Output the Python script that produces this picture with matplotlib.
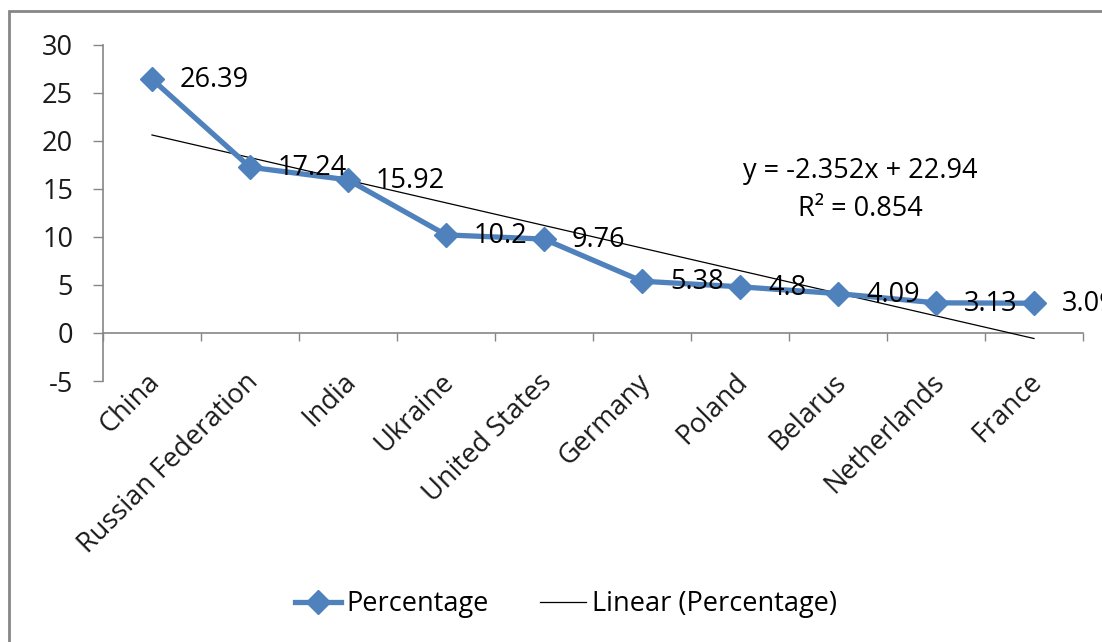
import matplotlib
matplotlib.use("Agg")
import matplotlib.pyplot as plt
import matplotlib.transforms as mtransforms
from matplotlib.lines import Line2D
from matplotlib.patches import Rectangle
import numpy as np

countries = ["China", "Russian Federation", "India", "Ukraine", "United States",
             "Germany", "Poland", "Belarus", "Netherlands", "France"]
percentage = [26.39, 17.24, 15.92, 10.2, 9.76, 5.38, 4.8, 4.09, 3.13, 3.09]
value_labels = ["26.39", "17.24", "15.92", "10.2", "9.76", "5.38", "4.8", "4.09", "3.13", "3.09"]
trend_slope = -2.352
trend_intercept = 22.94
r_squared = 0.854
y_ticks = [-5, 0, 5, 10, 15, 20, 25, 30]

FONT = "Open Sans"
FS = 19.5
BLUE = "#4F81BD"
GRAY = "#868686"

W, H = 1102, 642
fig = plt.figure(figsize=(W / 100, H / 100), dpi=100)
plt.rcParams["font.family"] = [FONT, "DejaVu Sans"]

# outer chart frame
fig.patches.append(Rectangle((9 / W, -0.1), 1.2, 1 - 11 / H + 0.1,
                             transform=fig.transFigure, fill=False,
                             edgecolor=GRAY, linewidth=2, zorder=0))

left, right = 103 / W, 1083 / W
bottom, top = (H - 381) / H, (H - 44.5) / H
ax = fig.add_axes([left, bottom, right - left, top - bottom])

x = np.arange(1, len(countries) + 1)
ax.set_xlim(0.5, len(countries) + 0.5)
ax.set_ylim(-5, 30)

# trend line
ax.plot(x, trend_slope * x + trend_intercept, color="black", linewidth=0.9, zorder=3)
# data series
ax.plot(x, percentage, color=BLUE, linewidth=3.8, marker="D", markersize=12,
        markeredgecolor=BLUE, markerfacecolor=BLUE, zorder=4)

for xi, v, lab in zip(x, percentage, value_labels):
    ax.annotate(lab, (xi, v), xytext=(28, -1), textcoords="offset pixels",
                ha="left", va="center", fontsize=FS, color="black", zorder=5)

eq_text = f"y = {trend_slope}x + {trend_intercept}\nR² = {r_squared}"
ax.text(0.773, 0.568, eq_text, transform=ax.transAxes,
        ha="center", va="center", fontsize=FS, color="black", linespacing=1.45)

# axes styling
for s in ["top", "right"]:
    ax.spines[s].set_visible(False)
ax.spines["left"].set_color(GRAY)
ax.spines["bottom"].set_color(GRAY)
ax.spines["left"].set_linewidth(1.2)
ax.spines["bottom"].set_linewidth(1.2)
ax.spines["bottom"].set_position(("data", 0))

ax.set_yticks(y_ticks)
ax.set_yticklabels([str(t) for t in y_ticks])
ax.tick_params(axis="y", direction="out", length=7.5, width=1, color=GRAY,
               pad=14, labelsize=FS, labelcolor="#1a1a1a")
ax.set_xticks(np.arange(0.5, len(countries) + 1, 1.0))
ax.set_xticklabels([])
ax.tick_params(axis="x", direction="out", length=6, width=1, color=GRAY)

# rotated category labels below the plot
lab_tr = mtransforms.offset_copy(ax.transData, fig=fig, x=4, y=3, units="dots")
for xi, name in zip(x, countries):
    ax.text(xi, -5, name, transform=lab_tr, rotation=45, rotation_mode="anchor",
            ha="right", va="center", fontsize=FS, color="#1a1a1a", clip_on=False)

handles = [Line2D([0], [0], color=BLUE, linewidth=3.8, marker="D", markersize=12),
           Line2D([0], [0], color="black", linewidth=0.9)]
fig.legend(handles, ["Percentage", "Linear (Percentage)"], loc="center",
           bbox_to_anchor=(566 / W, 1 - 604 / H), ncol=2, frameon=False,
           fontsize=FS, handlelength=1.7, handletextpad=0.2, columnspacing=1.9,
           markerscale=1.0)

fig.savefig("out.png", dpi=100)
